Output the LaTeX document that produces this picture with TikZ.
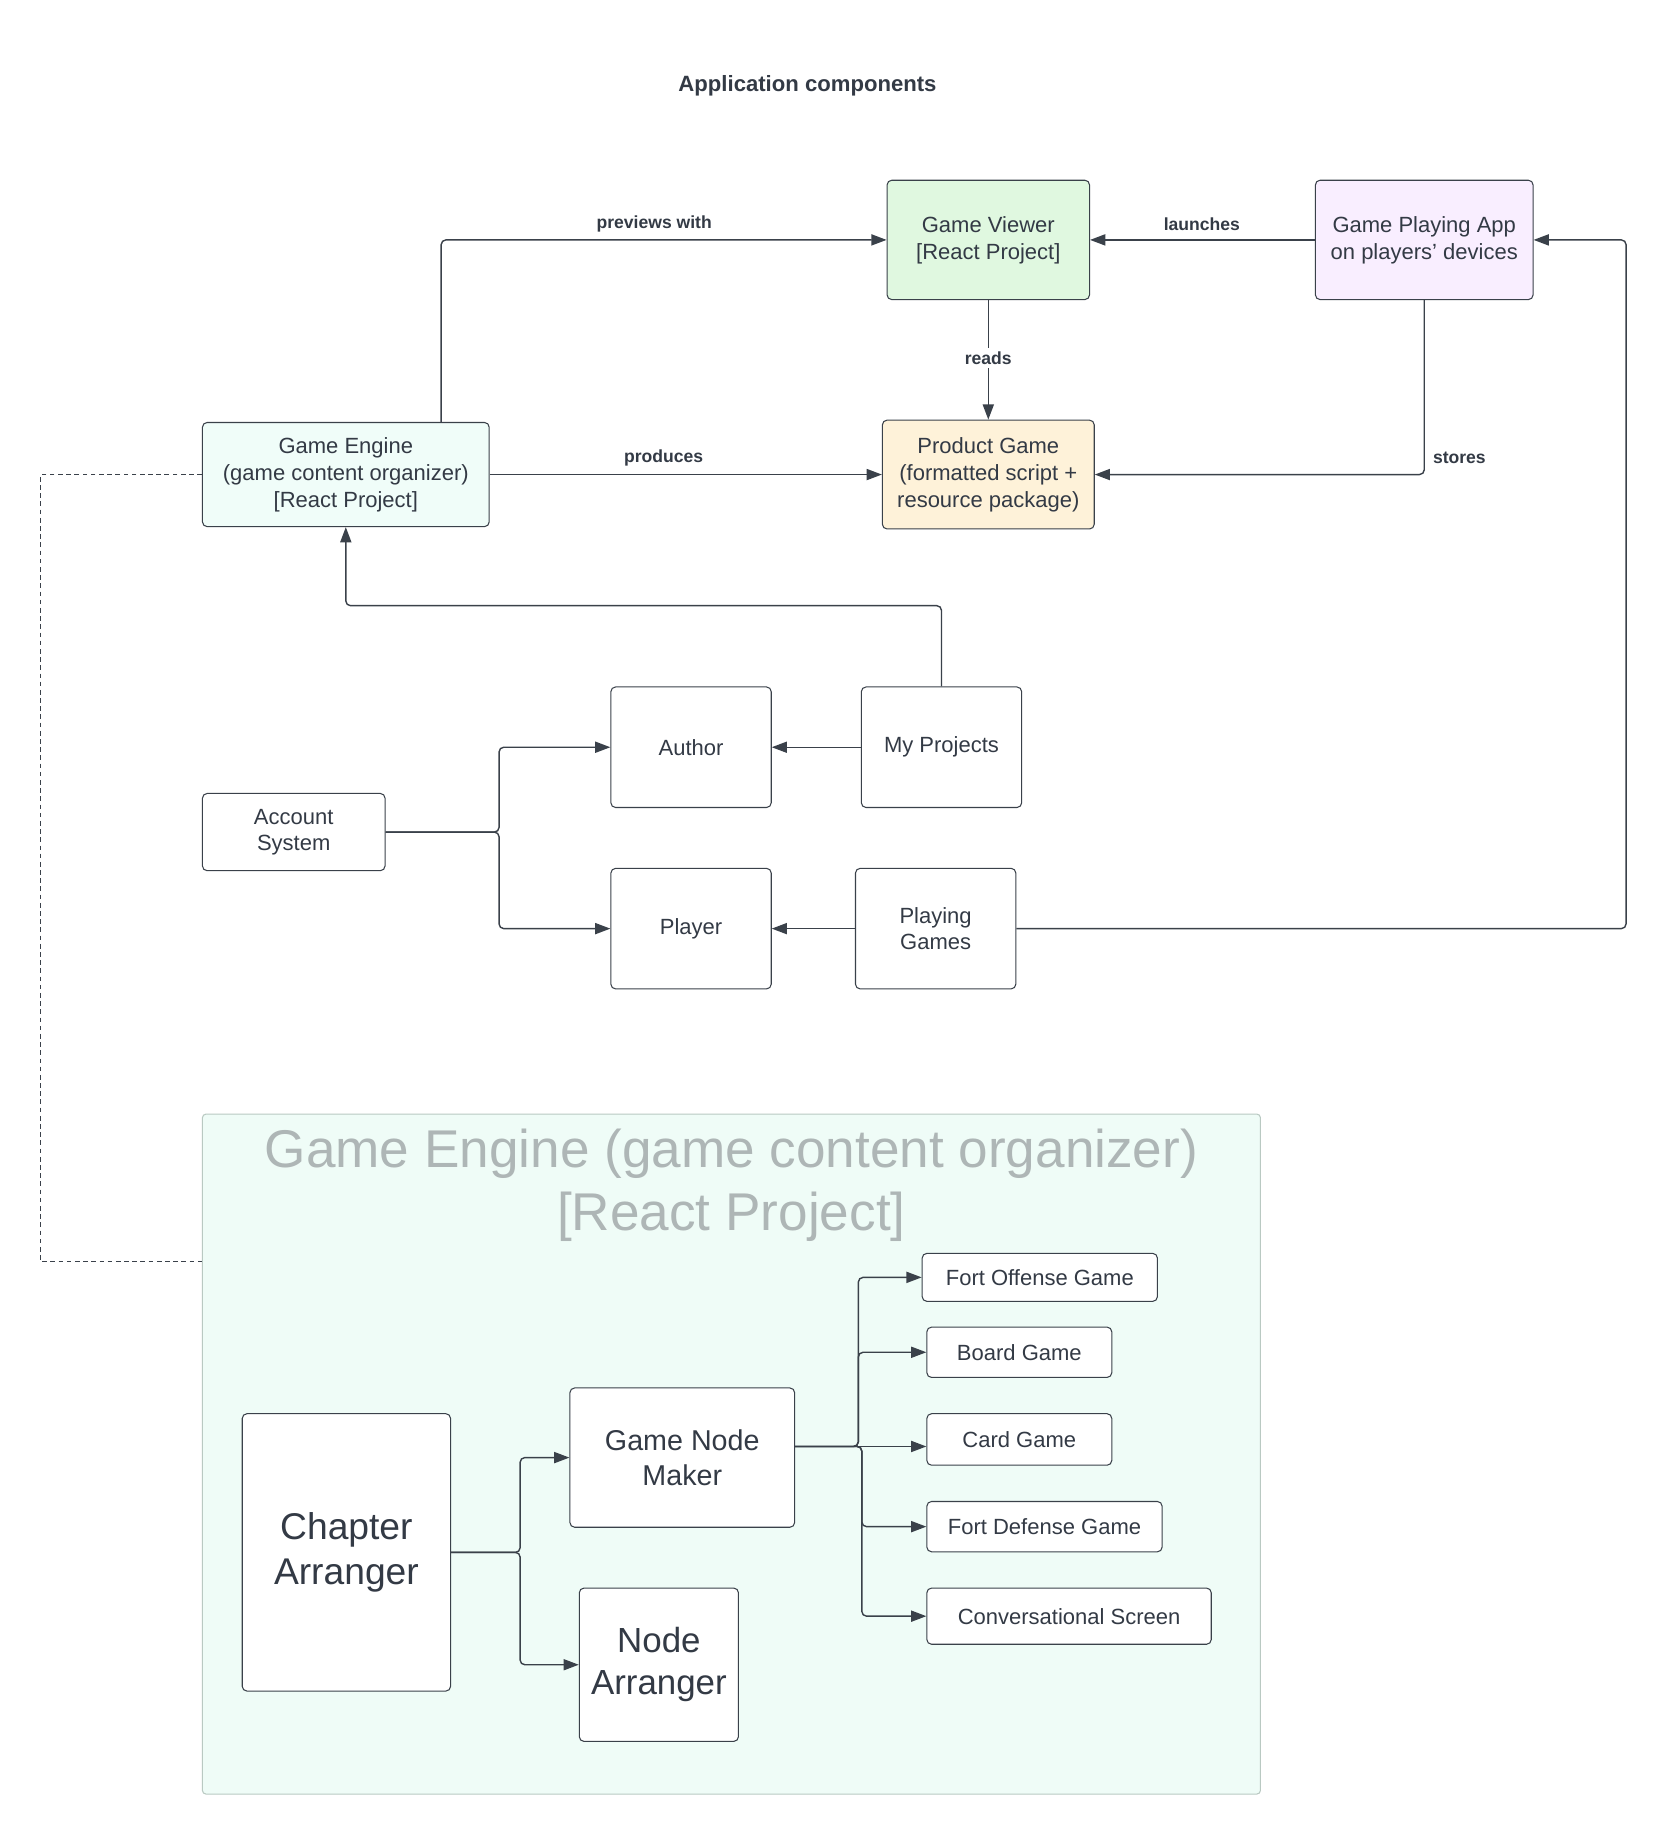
\documentclass[tikz,border=0pt]{standalone}
\usepackage{fontspec}
\setmainfont{Liberation Sans}
\usetikzlibrary{arrows.meta,calc}
\definecolor{ln}{HTML}{3A414A}
\definecolor{tx}{HTML}{333A45}
\definecolor{gvfill}{HTML}{E0F8E0}
\definecolor{gpfill}{HTML}{F9EEFF}
\definecolor{gefill}{HTML}{F0FDF9}
\definecolor{pgfill}{HTML}{FEF2D9}
\definecolor{ctfill}{HTML}{EFFCF7}
\definecolor{ctline}{HTML}{B9C9C2}
\definecolor{cttext}{HTML}{AEB6B6}
\begin{document}
\begin{tikzpicture}[x=1pt,y=-1pt,
  box/.style={draw=ln, line width=0.9pt, rounded corners=4pt, align=center, text=tx, inner sep=0pt,
    font=\fontsize{18.8}{23}\selectfont},
  arr/.style={draw=ln, line width=1.2pt, -{Triangle[length=13pt,width=9.5pt]}, rounded corners=4pt},
  lbl/.style={font=\bfseries\fontsize{15}{18}\selectfont, text=tx, inner sep=1pt},
]
\useasboundingbox (0,0) rectangle (1424,1568);

\node[font=\bfseries\fontsize{18.9}{22}\selectfont, text=tx] (title) at (690,73) {Application components};

% container
\node[draw=ctline, fill=ctfill, line width=0.9pt, rounded corners=3pt, minimum width=904pt, minimum height=581pt, inner sep=0pt] (ct) at (625,1242.5) {};
\node[text=cttext, align=center, font=\fontsize{45.4}{54}\selectfont] (cttitle) at (625,1013) {Game Engine (game content organizer)\\{}[React Project]};

% top boxes
\node[box, fill=gvfill, minimum width=173pt, minimum height=102pt] (gv) at (844.5,205) {Game Viewer\\{}[React Project]};
\node[box, fill=gpfill, minimum width=186pt, minimum height=102pt] (gpa) at (1217,205) {Game Playing App\\on players\char39{} devices};
\node[box, fill=gefill, minimum width=245pt, minimum height=89pt] (ge) at (295.5,405.5) {Game Engine\\(game content organizer)\\{}[React Project]};
\node[box, fill=pgfill, minimum width=181pt, minimum height=93pt] (pg) at (844.5,405.5) {Product Game\\(formatted script +\\resource package)};

% middle boxes
\node[box, minimum width=137pt, minimum height=103pt] (author) at (590.5,638.5) {Author};
\node[box, minimum width=137pt, minimum height=103pt] (mp) at (804.5,638.5) {My Projects};
\node[box, minimum width=156pt, minimum height=66pt] (acc) at (251,711) {\strut Account\\System\strut};
\node[box, minimum width=137pt, minimum height=103pt] (player) at (590.5,793.5) {Player};
\node[box, minimum width=137pt, minimum height=103pt] (plg) at (799.5,793.5) {Playing\\Games};

% container boxes
\node[box, fill=white, minimum width=178pt, minimum height=237pt, font=\fontsize{31.8}{38}\selectfont] (ca) at (296,1326.5) {Chapter\\Arranger};
\node[box, fill=white, minimum width=192pt, minimum height=119pt, font=\fontsize{24.5}{30}\selectfont] (gnm) at (583,1245.5) {Game Node\\Maker};
\node[box, fill=white, minimum width=136pt, minimum height=131pt, font=\fontsize{29.8}{36}\selectfont] (na) at (563,1422.5) {Node\\Arranger};
\node[box, fill=white, minimum width=201pt, minimum height=41pt] (fo) at (888.5,1091.5) {Fort Offense Game};
\node[box, fill=white, minimum width=158pt, minimum height=43pt] (bg) at (871,1155.5) {Board Game};
\node[box, fill=white, minimum width=158pt, minimum height=44pt] (cg) at (871,1230) {Card Game};
\node[box, fill=white, minimum width=201pt, minimum height=43pt] (fd) at (892.5,1304.5) {Fort Defense Game};
\node[box, fill=white, minimum width=243pt, minimum height=48pt] (cs) at (913.5,1381) {Conversational Screen};

% top connectors
\draw[arr] ([xshift=81.5pt]ge.north) |- (gv.west);
\node[lbl] (lprev) at (559,191.5) {previews with};
\draw[arr] (gpa.west) -- (gv.east);
\node[lbl] (llaunch) at (1027,191.5) {launches};
\draw[arr] (gv.south) -- (pg.north);
\node[lbl, fill=white, inner sep=3pt] (lreads) at (844.5,306) {reads};
\draw[arr] (ge.east) -- (pg.west);
\node[lbl] (lprod) at (567,391.5) {produces};
\draw[arr] (gpa.south) |- (pg.east);
\node[lbl] (lstores) at (1247,391) {stores};

% middle connectors
\draw[arr] (mp.north) -- ++(0,-69) -| (ge.south);
\draw[arr] (mp.west) -- (author.east);
\draw[arr] (plg.west) -- (player.east);
\draw[arr] (acc.east) -- ++(97,0) |- (author.west);
\draw[arr] (acc.east) -- ++(97,0) |- (player.west);
\draw[arr] (plg.east) -- ++(521,0) |- (gpa.east);

% dashed link
\coordinate (cin) at ([yshift=164.5pt]ct.west);
\draw[ln, line width=0.8pt, dash pattern=on 4pt off 3pt] (ge.west) -- ++(-138,0) |- (cin);

% container connectors
\draw[arr] (ca.east) -- ++(59,0) |- (gnm.west);
\draw[arr] (ca.east) -- ++(59,0) |- (na.west);
\coordinate (gout) at ([yshift=9.5pt]gnm.east);
\draw[arr] (gout) -- ++(54,0) |- (fo.west);
\draw[arr] (gout) -- ++(54,0) |- (bg.west);
\draw[arr] (gout) -- (gout -| cg.west);
\draw[arr] (gout) -- ++(57,0) |- (fd.west);
\draw[arr] (gout) -- ++(57,0) |- (cs.west);
\end{tikzpicture}
\end{document}
